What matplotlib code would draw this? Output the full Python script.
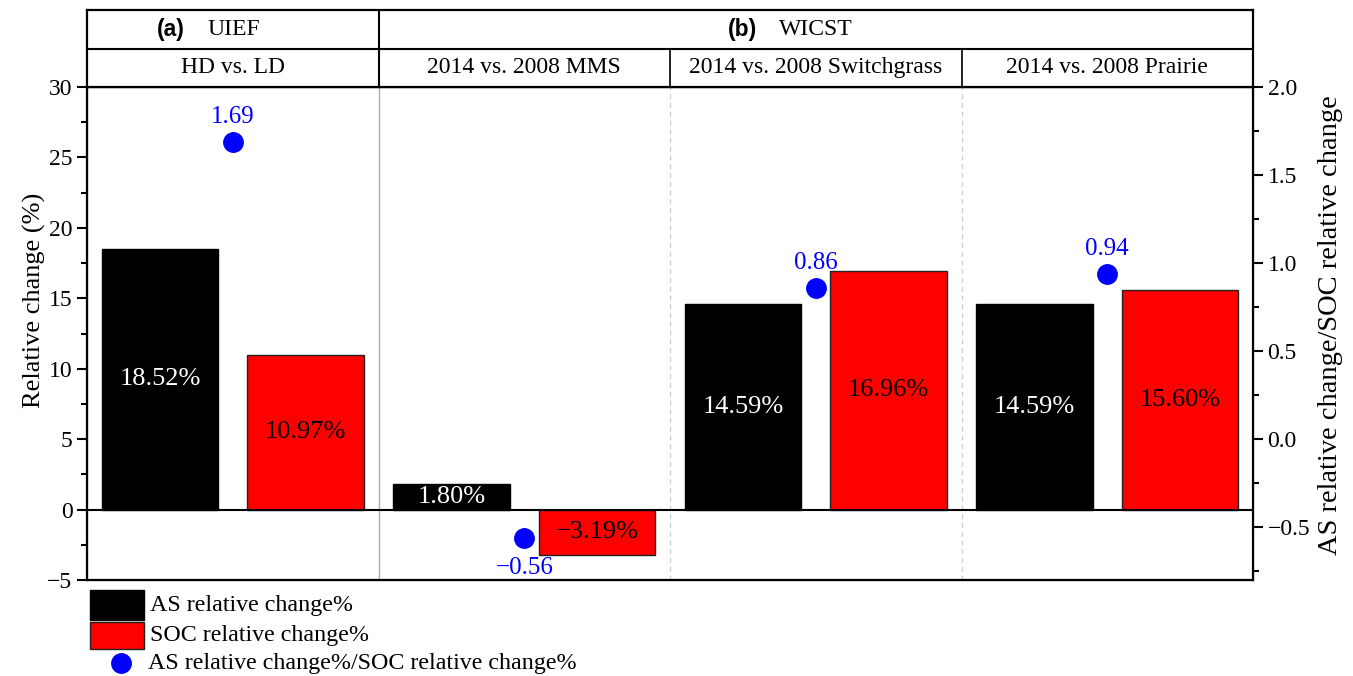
import matplotlib
matplotlib.use("Agg")
import matplotlib.pyplot as plt
from matplotlib.patches import Rectangle
from matplotlib.lines import Line2D
import numpy as np

plt.rcParams['font.family'] = ['Liberation Serif', 'DejaVu Serif']
plt.rcParams['axes.unicode_minus'] = True

sites = ["(a)", "(b)"]
site_names = ["UIEF", "WICST"]
comparisons = ["HD vs. LD", "2014 vs. 2008 MMS", "2014 vs. 2008 Switchgrass", "2014 vs. 2008 Prairie"]
as_change = [18.52, 1.80, 14.59, 14.59]
soc_change = [10.97, -3.19, 16.96, 15.60]
ratio = [1.69, -0.56, 0.86, 0.94]

W, H = 1353, 676
fig = plt.figure(figsize=(W / 100, H / 100), dpi=100)

L, R, T, B = 87, 1253, 87, 580
ax = fig.add_axes([L / W, 1 - B / H, (R - L) / W, (B - T) / H])
hax = fig.add_axes([L / W, 1 - T / H, (R - L) / W, (T - 10) / H])

x = np.arange(len(comparisons))
bw = 0.4
ax.bar(x + 0.25, as_change, bw, color='black', edgecolor='black', linewidth=1, zorder=3)
ax.bar(x + 0.75, soc_change, bw, color='#ff0000', edgecolor='#222222', linewidth=1, zorder=3)
ax.axhline(0, color='black', lw=1.5, zorder=4)

def pct(v):
    return f"{v:.2f}%".replace('-', '\u2212')

for i in range(len(x)):
    ax.text(x[i] + 0.25, as_change[i] / 2, pct(as_change[i]),
            ha='center', va='center', color='white', fontsize=19, zorder=5)
    ax.text(x[i] + 0.75, soc_change[i] / 2, pct(soc_change[i]),
            ha='center', va='center', color='black', fontsize=19, zorder=5)

ax.set_xlim(0, 4)
ax.set_ylim(-5, 30)
ax.set_yticks(range(-5, 31, 5))
ax.set_yticks(np.arange(-5, 30, 2.5), minor=True)
ax.set_xticks([])
ax.axvline(1, color='#aaaaaa', lw=1, zorder=1)
for g in [2, 3]:
    ax.axvline(g, color='#cccccc', lw=0.9, ls=(0, (4, 3)), zorder=1)
ax.tick_params(axis='y', which='major', direction='out', length=7, width=1.5, labelsize=17)
ax.tick_params(axis='y', which='minor', direction='out', length=4, width=1.5)
ax.set_ylabel("Relative change (%)", fontsize=19)
ax.yaxis.set_label_coords(-0.035, 0.568)
for s in ax.spines.values():
    s.set_linewidth(1.6)

ax2 = ax.twinx()
ax2.plot(x + 0.5, ratio, 'o', color='#0000ff', ms=14, zorder=6)
ax2.set_ylim(-0.8, 2.0)
ax2.set_yticks(np.arange(-0.5, 2.01, 0.5))
ax2.set_yticks(np.arange(-0.75, 2.0, 0.25), minor=True)
ax2.tick_params(axis='y', which='major', direction='out', length=7, width=1.5, labelsize=17)
ax2.tick_params(axis='y', which='minor', direction='out', length=4, width=1.5)
ax2.set_ylabel("AS relative change/SOC relative change", fontsize=20.5)
ax2.yaxis.set_label_coords(1.056, 0.517)
for i in range(len(x)):
    up = ratio[i] > 0
    ax2.annotate(f"{ratio[i]:.2f}".replace('-', '\u2212'), (x[i] + 0.5, ratio[i]),
                 xytext=(0, 10 if up else -14), textcoords='offset points', ha='center',
                 va='bottom' if up else 'top', color='#0000ff', fontsize=18)

# header
hax.set_xlim(0, 4)
hax.set_ylim(0, 2)
hax.set_xticks([])
hax.set_yticks([])
for s in hax.spines.values():
    s.set_linewidth(1.6)
hax.axhline(1, color='black', lw=1.5)
hax.plot([1, 1], [0, 2], color='black', lw=1.5)
for g in [2, 3]:
    hax.plot([g, g], [0, 1], color='black', lw=1.2)
for i, c in enumerate(comparisons):
    hax.text(i + 0.5, 0.5, c, ha='center', va='center', fontsize=17)
hax.text(0.336, 1.5, sites[0], ha='right', va='center', fontsize=16.5, fontweight='bold', family='Liberation Sans')
hax.text(0.412, 1.5, site_names[0], ha='left', va='center', fontsize=17)
hax.text(2.298, 1.5, sites[1], ha='right', va='center', fontsize=16.5, fontweight='bold', family='Liberation Sans')
hax.text(2.374, 1.5, site_names[1], ha='left', va='center', fontsize=17)

# legend drawn by hand below the plot
legend_labels = ["AS relative change%", "SOC relative change%", "AS relative change%/SOC relative change%"]
fig.add_artist(Rectangle((90 / W, 1 - 620 / H), 54 / W, 30 / H, facecolor='black', edgecolor='black', lw=1))
fig.add_artist(Rectangle((90 / W, 1 - 649 / H), 54 / W, 27 / H, facecolor='#ff0000', edgecolor='#222222', lw=1))
fig.add_artist(Line2D([121 / W], [1 - 663 / H], marker='o', color='#0000ff', ms=14, ls=''))
fig.text(150 / W, 1 - 605 / H, legend_labels[0], va='center', fontsize=17.3)
fig.text(150 / W, 1 - 635 / H, legend_labels[1], va='center', fontsize=17.3)
fig.text(148 / W, 1 - 663 / H, legend_labels[2], va='center', fontsize=17.3)

fig.savefig("out.png", dpi=100)
